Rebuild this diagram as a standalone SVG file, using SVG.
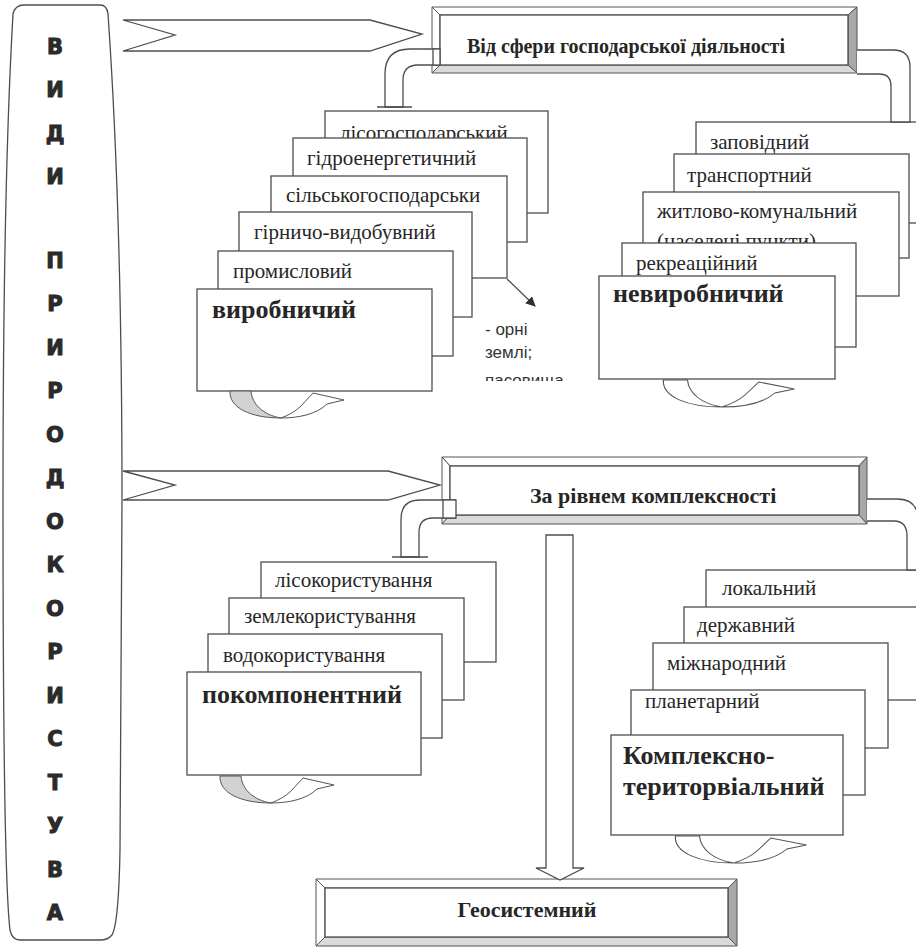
<svg xmlns="http://www.w3.org/2000/svg" width="916" height="947" viewBox="0 0 916 947">
<defs>
<style>
.ln{fill:none;stroke:#4d4d4d;stroke-width:1.3}
.pp{fill:#fff;stroke:#4d4d4d;stroke-width:1.3}
.bx{fill:#fff;stroke:#4d4d4d;stroke-width:1.3}
.it{font-family:"Liberation Serif","Times New Roman",serif;font-size:21px;fill:#262626}
.bd{font-family:"Liberation Serif","Times New Roman",serif;font-size:26px;font-weight:bold;fill:#262626}
.tt{font-family:"Liberation Serif","Times New Roman",serif;font-weight:bold;fill:#262626}
.lt{font-family:"DejaVu Sans","Liberation Sans",sans-serif;font-size:21px;font-weight:bold;fill:#2a2a2a;stroke:#2a2a2a;stroke-width:1;text-anchor:middle}
.sm{font-family:"Liberation Sans",Arial,sans-serif;font-size:17px;fill:#333}
.bvl{fill:#fff;stroke:#555;stroke-width:1}
.bvr{fill:#a8a8a8;stroke:#555;stroke-width:1}
.bvb{fill:#dadada;stroke:#555;stroke-width:1}
.shade{fill:#d2d2d2;stroke:#555;stroke-width:1}
.wh{fill:#fff;stroke:#555;stroke-width:1}
</style>
<path id="lobe" d="M -51,-27 C -52,-10 -30,0 0,0 C -18,-3 -29,-14 -30,-27 Z"/>
<path id="front" d="M 0,0 C 8,-3 15,-7 20,-12 L 32,-25 L 63,-18 L 46,-14 C 36,-4 18,0 0,0 Z"/>
<marker id="ah" markerWidth="12" markerHeight="12" refX="9" refY="5" orient="auto" markerUnits="userSpaceOnUse"><path d="M0,0 L10,5 L0,10 Z" fill="#333"/></marker>
<clipPath id="cp"><rect x="470" y="300" width="120" height="81"/></clipPath>
</defs>
<rect width="916" height="947" fill="#fff"/>

<g id="main-title">
<path class="bx" d="M 24,5 L 100,5 Q 107,5 108,14 C 114,100 122,250 122,500 L 120,850 C 119,905 116,928 112,935 Q 108,940 100,940 L 20,940 Q 12,940 10,930 C 4,880 3,700 3,500 C 3,250 8,100 13,14 Q 15,5 24,5 Z"/>
<text class="lt" x="55" y="53.5">В</text>
<text class="lt" x="55" y="97">И</text>
<text class="lt" x="55" y="140.5">Д</text>
<text class="lt" x="55" y="184">И</text>
<text class="lt" x="55" y="267.5">П</text>
<text class="lt" x="55" y="311">Р</text>
<text class="lt" x="55" y="354.5">И</text>
<text class="lt" x="55" y="398">Р</text>
<text class="lt" x="55" y="441.5">О</text>
<text class="lt" x="55" y="485">Д</text>
<text class="lt" x="55" y="528.5">О</text>
<text class="lt" x="55" y="572">К</text>
<text class="lt" x="55" y="615.5">О</text>
<text class="lt" x="55" y="659">Р</text>
<text class="lt" x="55" y="702.5">И</text>
<text class="lt" x="55" y="746">С</text>
<text class="lt" x="55" y="789.5">Т</text>
<text class="lt" x="55" y="833">У</text>
<text class="lt" x="55" y="876.5">В</text>
<text class="lt" x="55" y="920">А</text>
</g>

<g id="sphere">
<polygon class="bvl" points="432,7 857,7 848,15 440,15"/>
<polygon class="bvl" points="432,7 440,15 440,65 432,73"/>
<polygon class="bvr" points="857,7 857,73 848,65 848,15"/>
<polygon class="bvb" points="432,73 857,73 848,65 440,65"/>
<rect class="bx" x="440" y="15" width="408" height="50"/>
<text class="tt" x="467" y="53" font-size="20">Від сфери господарської діяльності</text>
</g>

<g id="complexity">
<polygon class="bvl" points="442,457 867,457 859,466 450,466"/>
<polygon class="bvl" points="442,457 450,466 450,515 442,524"/>
<polygon class="bvr" points="867,457 867,524 859,515 859,466"/>
<polygon class="bvb" points="442,524 867,524 859,515 450,515"/>
<rect class="bx" x="450" y="466" width="409" height="49"/>
<text class="tt" x="530" y="503" font-size="22">За рівнем комплексності</text>
</g>

<g id="geosystem">
<polygon class="bvl" points="316,879 737,879 728,888 325,888"/>
<polygon class="bvl" points="316,879 325,888 325,937 316,946"/>
<polygon class="bvr" points="737,879 737,946 728,937 728,888"/>
<polygon class="bvb" points="316,946 737,946 728,937 325,937"/>
<rect class="bx" x="325" y="888" width="403" height="49"/>
<text class="tt" x="527" y="917" font-size="22" text-anchor="middle">Геосистемний</text>
</g>

<g id="productive">
<rect class="bx" x="325" y="111" width="223" height="102"/>
<text class="it" x="340" y="140">лісогосподарський</text>
<rect class="bx" x="293" y="138" width="234" height="104"/>
<text class="it" x="307" y="165">гідроенергетичний</text>
<rect class="bx" x="271" y="176" width="236" height="102"/>
<text class="it" x="286" y="202">сільськогосподарськи</text>
<rect class="bx" x="239" y="212" width="233" height="105"/>
<text class="it" x="254" y="239">гірничо-видобувний</text>
<rect class="bx" x="218" y="251" width="235" height="105"/>
<text class="it" x="233" y="278">промисловий</text>
<rect class="bx" x="197" y="289" width="235" height="102"/>
<text class="bd" x="212" y="318">виробничий</text>
</g>

<g id="agri-note">
<text class="sm" x="485" y="335">- орні</text>
<text class="sm" x="485" y="358">землі;</text>
<text class="sm" x="485" y="386" clip-path="url(#cp)">пасовища</text>
</g>

<g id="nonproductive">
<rect class="bx" x="696" y="122" width="230" height="101"/>
<text class="it" x="710" y="149">заповідний</text>
<rect class="bx" x="674" y="154" width="235" height="104"/>
<text class="it" x="687" y="182">транспортний</text>
<rect class="bx" x="643" y="192" width="256" height="104"/>
<text class="it" x="657" y="218">житлово-комунальний</text>
<text class="it" x="657" y="248">(населені пункти)</text>
<rect class="bx" x="622" y="243" width="234" height="104"/>
<text class="it" x="636" y="270">рекреаційний</text>
<rect class="bx" x="599" y="276" width="236" height="103"/>
<text class="bd" x="613" y="302">невиробничий</text>
</g>

<g id="component">
<rect class="bx" x="261" y="562" width="235" height="100"/>
<text class="it" x="275" y="587">лісокористування</text>
<rect class="bx" x="229" y="598" width="235" height="102"/>
<text class="it" x="244" y="623">землекористування</text>
<rect class="bx" x="208" y="634" width="234" height="104"/>
<text class="it" x="223" y="662">водокористування</text>
<rect class="bx" x="187" y="672" width="234" height="103"/>
<text class="bd" x="202" y="703">покомпонентний</text>
</g>

<g id="territorial">
<rect class="bx" x="706" y="570" width="220" height="110"/>
<text class="it" x="722" y="595">локальний</text>
<rect class="bx" x="684" y="607" width="242" height="93"/>
<text class="it" x="697" y="632">державний</text>
<rect class="bx" x="653" y="643" width="235" height="105"/>
<text class="it" x="667" y="670">міжнародний</text>
<rect class="bx" x="631" y="690" width="234" height="105"/>
<text class="it" x="645" y="708">планетарний</text>
<rect class="bx" x="611" y="735" width="232" height="100"/>
<text class="bd" x="623" y="764">Комплексно-</text>
<text class="bd" x="623" y="795">територвіальний</text>
</g>

<g id="connectors">
<path class="ln" d="M 123,20 L 370,20 L 422,34 L 370,51 L 123,51 L 175,35 Z"/>
<path class="ln" d="M 123,471 L 388,471 L 440,485 L 388,500 L 123,500 L 175,485 Z"/>
<path class="pp" d="M 440,49 H 410 Q 385,49 385,74 V 107 H 403 V 80 Q 403,65 418,65 H 440"/>
<rect class="pp" x="433" y="49" width="7" height="16"/>
<path class="ln" d="M 377,107 H 412"/>
<path class="pp" d="M 857,50 H 893 Q 910,50 910,67 V 122 H 891 V 86 Q 891,74 879,74 H 857"/>
<path class="pp" d="M 456,500 H 420 Q 401,500 401,519 V 557 H 419 V 532 Q 419,518 433,518 H 456"/>
<rect class="pp" x="443" y="500" width="13" height="18"/>
<path class="ln" d="M 392,557 H 428"/>
<path class="pp" d="M 867,499 H 897 Q 918,499 918,520 V 570 H 907 V 536 Q 907,521 894,521 H 867"/>
<path class="pp" d="M 546,535 H 573 V 868 H 584 L 560,880 L 536,868 H 546 Z"/>
<path class="ln" d="M 507,279 L 535,306" marker-end="url(#ah)"/>
<use href="#lobe" class="shade" transform="translate(281,418)"/>
<use href="#front" class="wh" transform="translate(281,418)"/>
<use href="#lobe" class="wh" transform="translate(722,407) scale(1.15,1)"/>
<use href="#front" class="wh" transform="translate(722,407) scale(1.15,1)"/>
<use href="#lobe" class="shade" transform="translate(271,803)"/>
<use href="#front" class="wh" transform="translate(271,803)"/>
<use href="#lobe" class="wh" transform="translate(734,863) scale(1.15,1)"/>
<use href="#front" class="wh" transform="translate(734,863) scale(1.15,1)"/>
</g>
</svg>
